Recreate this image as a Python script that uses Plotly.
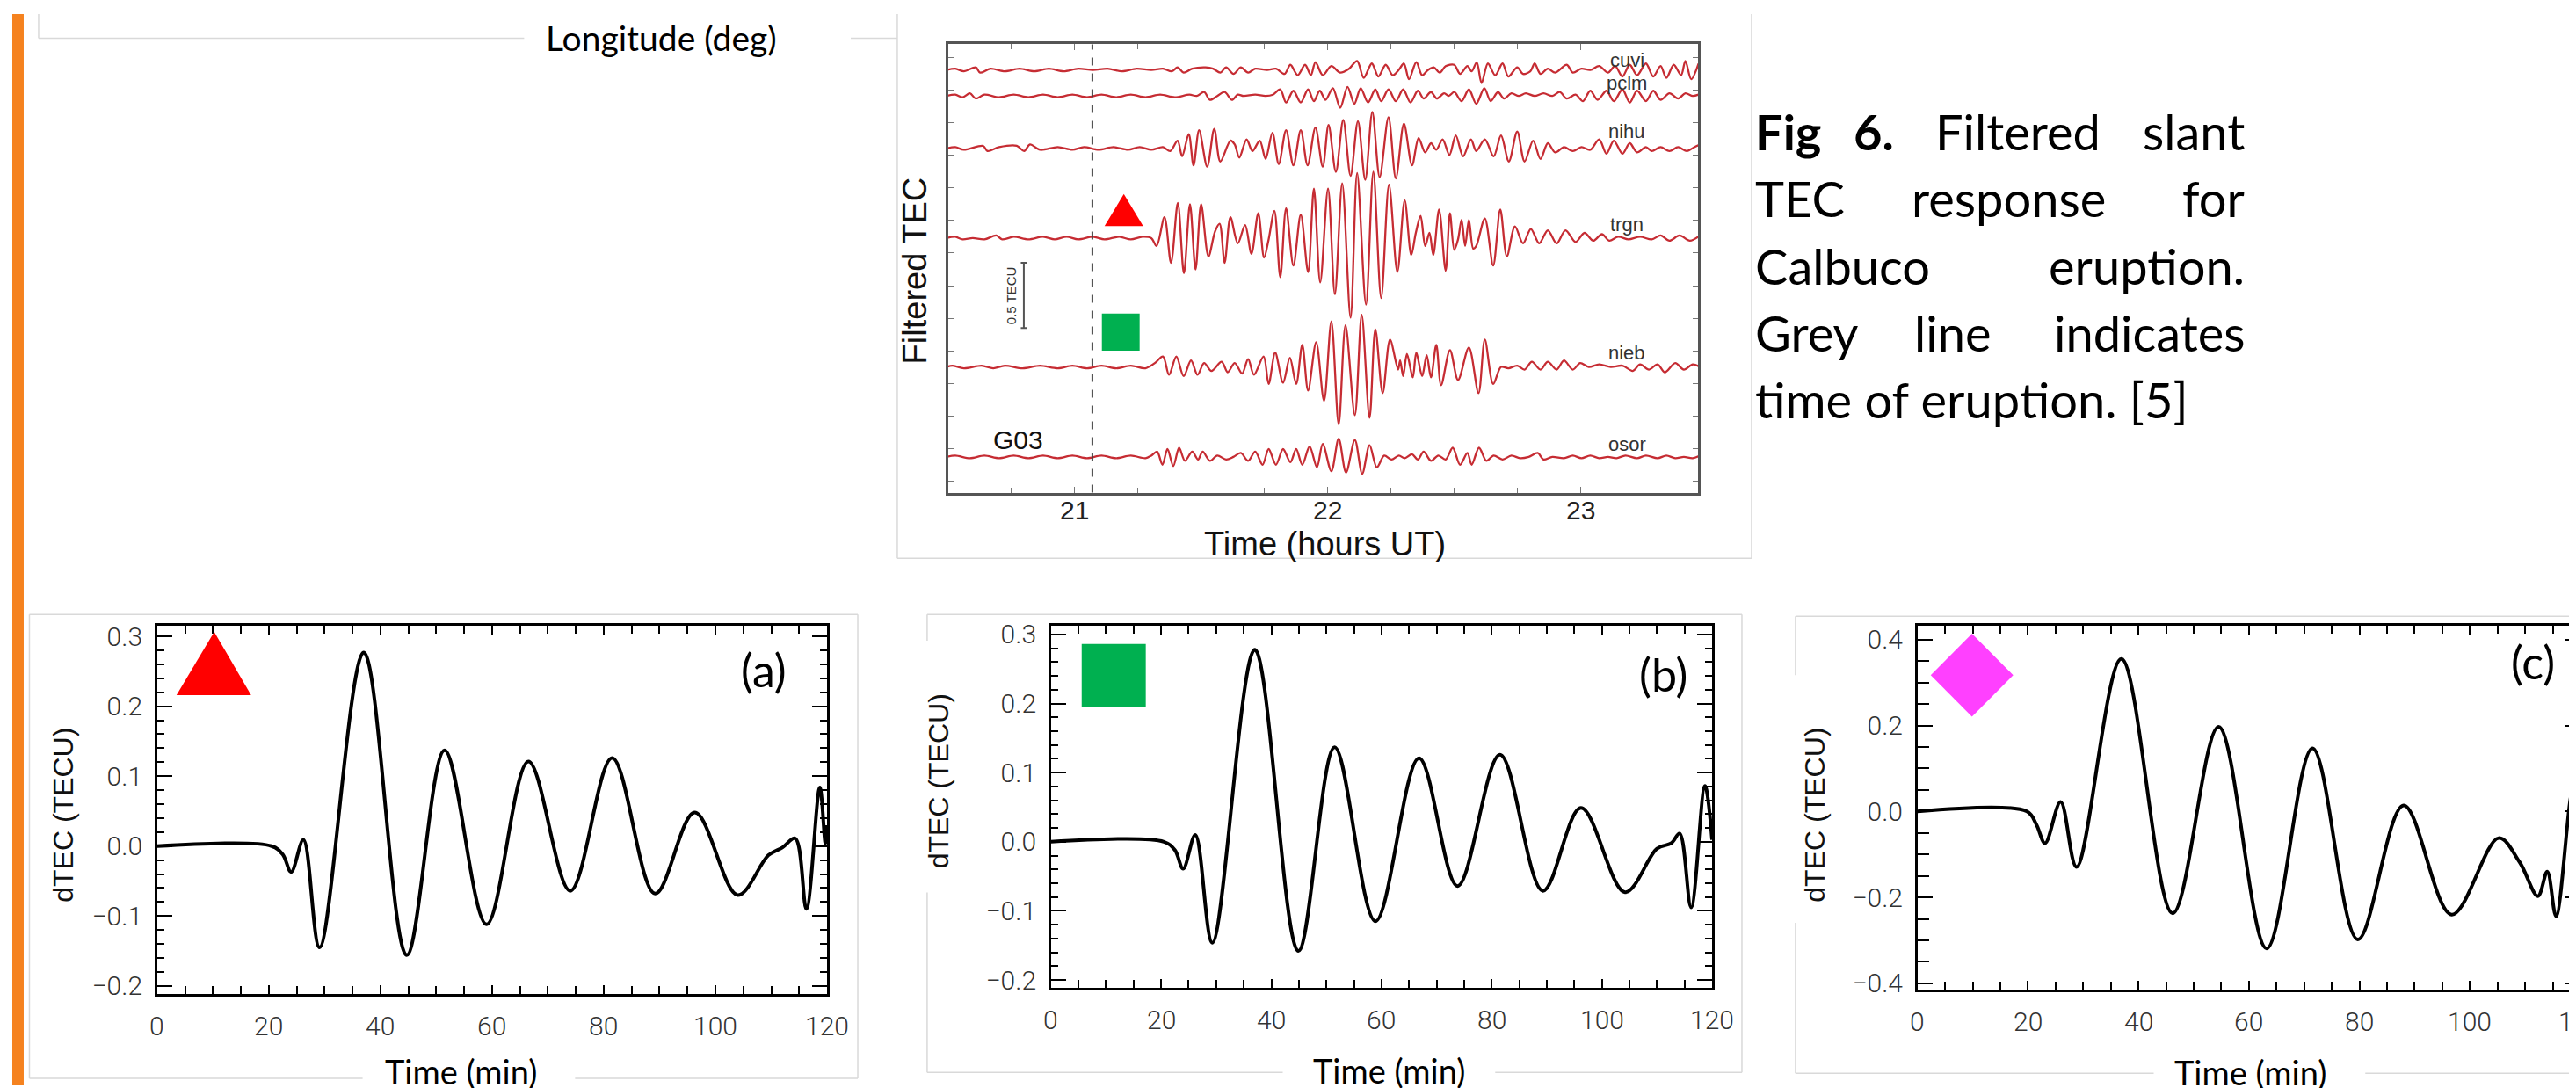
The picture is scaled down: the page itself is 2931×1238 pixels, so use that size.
import plotly.graph_objects as go

W, H = 2931, 1238

# ---------------------------------------------------------------- data
# Fig 6: filtered slant TEC per station, (time in hours UT, offset in TECU)
tec_stations = ["cuvi", "pclm", "nihu", "trgn", "nieb", "osor"]
tec_baselines = [3.243, 3.044, 2.641, 1.953, 0.964, 0.274]
tec_label_y = [3.32, 3.145, 2.77, 2.06, 1.07, 0.37]
tec_label_x = 23.184
tec_ticks = [21, 22, 23]
eruption_hour = 21.07
scale_bar = [1.263, 1.763]  # 0.5 TECU

cuvi = [(20.493,0.00),(20.528,0.01),(20.562,-0.01),(20.609,0.02),(20.626,-0.02),(20.667,0.01),(20.724,-0.01),(20.782,0.01),(20.840,-0.01),(20.898,0.01),(20.956,-0.01),(21.014,0.01),(21.072,0.00),(21.130,0.01),(21.187,-0.01),(21.245,0.01),(21.303,0.00),(21.349,0.01),(21.384,-0.01),(21.407,0.02),(21.431,-0.02),(21.465,0.01),(21.518,0.02),(21.547,0.01),(21.576,-0.02),(21.599,0.02),(21.628,-0.03),(21.657,0.02),(21.686,-0.02),(21.714,0.01),(21.761,0.00),(21.796,0.01),(21.830,-0.03),(21.853,0.04),(21.882,-0.04),(21.911,0.04),(21.934,-0.04),(21.952,0.06),(21.981,-0.04),(22.015,0.03),(22.050,-0.02),(22.085,0.01),(22.117,0.07),(22.143,-0.06),(22.175,0.05),(22.201,-0.05),(22.230,0.04),(22.258,-0.04),(22.281,0.00),(22.302,0.05),(22.322,-0.07),(22.351,0.06),(22.374,-0.04),(22.397,0.00),(22.420,0.02),(22.444,-0.02),(22.467,0.03),(22.501,0.04),(22.524,-0.03),(22.553,0.03),(22.570,-0.01),(22.590,0.06),(22.609,-0.10),(22.634,0.05),(22.663,-0.04),(22.692,0.05),(22.715,-0.05),(22.750,0.02),(22.773,-0.03),(22.802,-0.01),(22.819,0.05),(22.842,-0.03),(22.871,0.01),(22.900,-0.02),(22.946,0.04),(22.970,-0.02),(23.004,0.01),(23.039,0.00),(23.074,0.03),(23.109,-0.02),(23.137,0.03),(23.166,-0.05),(23.195,0.04),(23.224,-0.04),(23.259,0.05),(23.288,-0.05),(23.317,0.03),(23.340,-0.06),(23.369,0.04),(23.398,-0.04),(23.415,0.07),(23.438,-0.07),(23.467,0.05)]

pclm = [(20.493,0.00),(20.528,0.01),(20.557,-0.01),(20.586,0.02),(20.609,-0.02),(20.643,0.01),(20.701,-0.01),(20.759,0.01),(20.817,-0.01),(20.875,0.01),(20.933,-0.01),(20.991,0.01),(21.049,-0.01),(21.106,0.01),(21.164,-0.01),(21.222,0.01),(21.280,-0.01),(21.338,0.01),(21.396,-0.01),(21.454,0.01),(21.483,0.00),(21.512,0.03),(21.535,-0.03),(21.564,0.00),(21.593,0.03),(21.622,-0.03),(21.645,0.01),(21.668,0.00),(21.714,0.01),(21.755,0.00),(21.784,0.01),(21.813,0.05),(21.836,-0.05),(21.865,0.04),(21.894,-0.05),(21.923,0.05),(21.946,-0.04),(21.969,0.04),(21.992,-0.03),(22.021,0.06),(22.050,-0.09),(22.079,0.07),(22.106,-0.06),(22.131,0.06),(22.160,-0.05),(22.189,0.05),(22.212,-0.04),(22.241,0.05),(22.270,-0.04),(22.299,0.05),(22.328,-0.05),(22.357,0.04),(22.380,-0.02),(22.409,0.03),(22.432,-0.02),(22.461,0.02),(22.479,0.00),(22.501,0.03),(22.530,-0.04),(22.559,0.05),(22.588,-0.06),(22.620,0.06),(22.645,-0.04),(22.674,0.03),(22.698,-0.02),(22.727,0.02),(22.756,0.00),(22.784,0.02),(22.819,0.00),(22.854,0.02),(22.889,0.00),(22.918,0.03),(22.946,-0.02),(22.981,0.01),(23.010,-0.04),(23.039,0.04),(23.068,-0.03),(23.103,0.04),(23.132,-0.04),(23.166,0.05),(23.195,-0.05),(23.224,0.04),(23.259,-0.04),(23.288,0.04),(23.317,-0.03),(23.352,0.02),(23.386,-0.02),(23.415,0.02),(23.444,0.00),(23.467,0.01)]

nihu = [(20.493,0.00),(20.528,0.01),(20.562,-0.01),(20.638,0.02),(20.655,-0.02),(20.701,0.01),(20.771,0.02),(20.800,-0.02),(20.823,0.03),(20.863,-0.01),(20.933,0.01),(20.991,-0.01),(21.037,0.01),(21.095,-0.01),(21.153,0.01),(21.211,-0.01),(21.257,0.01),(21.303,-0.01),(21.349,0.01),(21.378,-0.02),(21.407,0.06),(21.425,-0.06),(21.451,0.11),(21.470,-0.13),(21.492,0.14),(21.524,-0.14),(21.552,0.15),(21.576,-0.10),(21.616,0.06),(21.633,0.03),(21.651,-0.07),(21.680,0.07),(21.703,-0.02),(21.732,0.06),(21.755,-0.08),(21.782,0.12),(21.807,-0.12),(21.836,0.14),(21.865,-0.13),(21.894,0.14),(21.921,-0.13),(21.952,0.16),(21.981,-0.14),(22.004,0.18),(22.033,-0.18),(22.062,0.22),(22.091,-0.21),(22.120,0.21),(22.149,-0.24),(22.177,0.28),(22.206,-0.22),(22.241,0.24),(22.270,-0.23),(22.302,0.19),(22.334,-0.13),(22.360,0.08),(22.386,-0.03),(22.409,0.04),(22.430,-0.01),(22.455,0.07),(22.482,-0.05),(22.507,0.10),(22.536,-0.06),(22.567,0.07),(22.588,-0.02),(22.622,0.07),(22.657,-0.06),(22.686,0.10),(22.717,-0.10),(22.750,0.13),(22.779,-0.10),(22.813,0.06),(22.842,-0.08),(22.871,0.04),(22.900,-0.03),(22.935,0.01),(22.970,-0.02),(23.004,0.01),(23.039,-0.01),(23.074,0.07),(23.103,-0.04),(23.132,0.06),(23.166,-0.04),(23.195,0.04),(23.224,-0.03),(23.259,0.01),(23.282,-0.02),(23.317,0.01),(23.352,-0.02),(23.386,0.01),(23.421,-0.02),(23.450,0.01),(23.473,0.03)]

trgn = [(20.493,0.00),(20.528,0.01),(20.557,-0.01),(20.597,0.00),(20.643,-0.01),(20.690,0.02),(20.713,-0.01),(20.759,0.01),(20.817,-0.01),(20.875,0.01),(20.921,-0.01),(20.968,0.01),(21.014,-0.01),(21.072,0.01),(21.118,-0.01),(21.176,0.01),(21.222,-0.01),(21.268,0.01),(21.303,0.00),(21.324,-0.06),(21.355,0.16),(21.381,-0.19),(21.408,0.27),(21.432,-0.27),(21.456,0.26),(21.478,-0.24),(21.500,0.26),(21.529,-0.14),(21.555,0.05),(21.573,0.11),(21.593,-0.19),(21.616,0.16),(21.645,-0.04),(21.674,0.10),(21.699,-0.12),(21.726,0.19),(21.749,-0.15),(21.767,-0.01),(21.790,0.21),(21.813,-0.30),(21.836,0.23),(21.865,-0.21),(21.894,0.18),(21.923,-0.26),(21.946,0.38),(21.971,-0.34),(22.002,0.38),(22.029,-0.43),(22.058,0.42),(22.091,-0.61),(22.117,0.50),(22.152,-0.51),(22.181,0.51),(22.212,-0.46),(22.243,0.41),(22.276,-0.26),(22.305,0.29),(22.331,-0.13),(22.349,0.04),(22.368,0.17),(22.386,-0.06),(22.403,0.04),(22.418,-0.13),(22.441,0.22),(22.467,-0.25),(22.484,0.19),(22.501,-0.09),(22.516,-0.01),(22.530,0.14),(22.544,-0.06),(22.559,0.14),(22.576,-0.08),(22.588,-0.06),(22.622,0.15),(22.655,-0.21),(22.683,0.22),(22.709,-0.14),(22.741,0.09),(22.773,-0.04),(22.804,0.07),(22.837,-0.04),(22.871,0.06),(22.906,-0.04),(22.941,0.06),(22.981,-0.03),(23.016,0.04),(23.051,-0.02),(23.085,0.03),(23.114,-0.02),(23.149,0.01),(23.190,-0.01),(23.236,0.01),(23.282,-0.01),(23.317,0.02),(23.352,-0.02),(23.392,0.02),(23.433,-0.02),(23.473,0.02)]

nieb = [(20.493,0.00),(20.516,0.01),(20.562,-0.01),(20.632,0.01),(20.678,-0.01),(20.724,0.01),(20.794,-0.01),(20.863,0.01),(20.933,-0.01),(20.991,0.01),(21.049,-0.01),(21.106,0.01),(21.164,-0.01),(21.222,0.01),(21.280,-0.01),(21.317,0.03),(21.349,0.08),(21.373,-0.06),(21.402,0.08),(21.431,-0.07),(21.460,0.05),(21.486,-0.06),(21.512,0.03),(21.541,-0.03),(21.581,0.04),(21.605,-0.04),(21.633,0.03),(21.662,-0.05),(21.686,0.06),(21.709,-0.06),(21.747,0.08),(21.767,-0.13),(21.793,0.11),(21.824,-0.12),(21.851,0.07),(21.876,-0.13),(21.900,0.17),(21.923,-0.18),(21.955,0.19),(21.986,-0.26),(22.015,0.35),(22.044,-0.44),(22.071,0.32),(22.108,-0.37),(22.135,0.40),(22.166,-0.39),(22.189,0.29),(22.218,-0.20),(22.247,0.21),(22.279,-0.02),(22.287,0.05),(22.299,-0.07),(22.314,0.10),(22.337,-0.08),(22.351,0.11),(22.374,-0.07),(22.392,0.09),(22.409,-0.08),(22.430,0.17),(22.449,-0.14),(22.484,0.13),(22.516,-0.10),(22.559,0.15),(22.597,-0.20),(22.622,0.21),(22.655,-0.13),(22.686,0.00),(22.715,-0.01),(22.750,0.01),(22.779,-0.02),(22.808,0.04),(22.842,-0.02),(22.871,0.04),(22.906,-0.02),(22.935,0.05),(22.970,-0.02),(22.999,0.03),(23.033,0.00),(23.074,0.02),(23.120,0.00),(23.166,0.01),(23.207,-0.03),(23.236,0.02),(23.271,-0.02),(23.305,0.02),(23.334,-0.04),(23.375,0.03),(23.409,-0.02),(23.444,0.02),(23.473,0.00)]

osor = [(20.493,0.00),(20.528,0.01),(20.586,-0.01),(20.643,0.01),(20.701,-0.01),(20.759,0.01),(20.817,-0.01),(20.875,0.01),(20.933,-0.01),(20.991,0.01),(21.049,-0.01),(21.106,0.01),(21.164,-0.01),(21.222,0.01),(21.280,-0.01),(21.303,0.01),(21.326,0.04),(21.347,-0.06),(21.367,0.06),(21.390,-0.07),(21.413,0.07),(21.436,-0.03),(21.465,0.04),(21.488,-0.02),(21.506,0.04),(21.535,-0.03),(21.564,0.01),(21.599,-0.02),(21.628,0.00),(21.657,0.03),(21.686,-0.03),(21.714,0.04),(21.743,-0.06),(21.767,0.06),(21.796,-0.06),(21.824,0.06),(21.853,-0.04),(21.876,0.06),(21.900,-0.06),(21.929,0.08),(21.958,-0.08),(21.981,0.10),(22.015,-0.11),(22.044,0.14),(22.073,-0.12),(22.108,0.13),(22.137,-0.13),(22.166,0.09),(22.195,-0.08),(22.224,0.01),(22.253,-0.02),(22.282,0.01),(22.305,-0.01),(22.334,0.02),(22.357,-0.02),(22.380,0.04),(22.409,-0.03),(22.438,0.01),(22.467,-0.02),(22.495,0.07),(22.524,-0.06),(22.553,0.03),(22.570,-0.06),(22.599,0.07),(22.628,-0.03),(22.657,0.01),(22.692,-0.02),(22.727,0.01),(22.761,-0.01),(22.796,0.00),(22.831,0.03),(22.854,-0.02),(22.889,0.00),(22.935,-0.01),(22.970,0.01),(23.004,-0.01),(23.039,0.01),(23.074,-0.01),(23.109,0.00),(23.143,-0.01),(23.178,0.01),(23.224,-0.01),(23.259,0.01),(23.305,-0.01),(23.340,0.01),(23.375,-0.01),(23.409,0.00),(23.444,-0.01),(23.473,0.01)]

tec_series = {"cuvi": cuvi, "pclm": pclm, "nihu": nihu, "trgn": trgn, "nieb": nieb, "osor": osor}

# Bottom panels: dTEC (TECU) vs time (min)
a_time = [0, 20.5, 22.5, 24.0, 26.2, 29.1, 37.0, 44.7, 51.5, 59.0, 66.5, 74.0, 81.5, 89.2, 96.3, 104.0, 109.5, 112.0, 114.3, 116.3, 118.7, 119.7, 120.0]
a_dtec = [0.0, 0.0, -0.012, -0.037, 0.009, -0.145, 0.277, -0.156, 0.137, -0.112, 0.121, -0.064, 0.126, -0.068, 0.048, -0.070, -0.013, -0.002, 0.011, -0.090, 0.084, 0.004, 0.030]

b_time = [0, 20.5, 22.5, 24.0, 26.2, 29.3, 37.0, 44.9, 51.5, 58.9, 66.8, 73.8, 81.5, 89.3, 96.2, 104.2, 110.0, 112.6, 114.1, 116.2, 118.7, 120.0]
b_dtec = [0.0, 0.0, -0.012, -0.039, 0.010, -0.146, 0.278, -0.158, 0.137, -0.115, 0.121, -0.064, 0.126, -0.071, 0.049, -0.073, -0.010, -0.002, 0.012, -0.095, 0.081, 0.003]

c_time = [0, 19.8, 21.5, 23.1, 25.9, 28.8, 36.9, 46.2, 54.5, 63.2, 71.5, 79.7, 88.0, 96.7, 105.2, 109.0, 112.3, 114.0, 115.6, 118.6, 120.0]
c_dtec = [0.0, 0.0, -0.03, -0.074, 0.022, -0.129, 0.355, -0.237, 0.197, -0.319, 0.147, -0.298, 0.014, -0.240, -0.062, -0.118, -0.197, -0.140, -0.244, 0.047, -0.080]

time_ticks = [0, 20, 40, 60, 80, 100, 120]
panel_labels = ["(a)", "(b)", "(c)"]

# ---------------------------------------------------------------- helpers
def PX(x):
    return x / W

def PY(y):
    return 1 - y / H

def seg(x0, y0, x1, y1, color="#D9D9D9", width=1.5):
    return dict(type="line", xref="paper", yref="paper", x0=PX(x0), y0=PY(y0),
                x1=PX(x1), y1=PY(y1), line=dict(color=color, width=width), layer="above")

def txt(x, y, s, size, family="Lato", color="#000", angle=0, xanchor="center", bg=None, pad=1):
    d = dict(x=PX(x), y=PY(y), xref="paper", yref="paper", text=s, showarrow=False,
             font=dict(family=family, size=size, color=color), textangle=angle,
             xanchor=xanchor, yanchor="middle", borderpad=pad)
    if bg:
        d["bgcolor"] = bg
    return d

fig = go.Figure()

# TEC traces
for name, base in zip(tec_stations, tec_baselines):
    pts = tec_series[name]
    fig.add_trace(go.Scatter(
        x=[p[0] for p in pts], y=[base + p[1] for p in pts], mode="lines",
        line=dict(color="#C62C33", width=2.3, shape="spline", smoothing=0.9),
        xaxis="x", yaxis="y", showlegend=False, hoverinfo="skip"))

for i, (t, v) in enumerate([(a_time, a_dtec), (b_time, b_dtec), (c_time, c_dtec)]):
    n = str(i + 2)
    fig.add_trace(go.Scatter(
        x=t, y=v, mode="lines",
        line=dict(color="#000", width=4, shape="spline", smoothing=1.0),
        xaxis="x" + n, yaxis="y" + n, showlegend=False, hoverinfo="skip"))

tick_font = dict(family="Roboto", size=30, color="#333", weight=300)

def bottom_x(dom, anchor):
    return dict(domain=dom, anchor=anchor, range=[0, 120], tickvals=time_ticks,
                ticks="inside", ticklen=10, tickwidth=1.5, tickcolor="#000",
                minor=dict(dtick=5, tick0=0, ticks="inside", ticklen=9, tickcolor="#000", tickwidth=1.5),
                showline=True, linecolor="#000", linewidth=2.5, mirror="allticks",
                showgrid=False, zeroline=False, showticklabels=False)

def bottom_y(dom, anchor, rng, dtick, minor_dtick, minor_len):
    return dict(domain=dom, anchor=anchor, range=rng, tick0=0, dtick=dtick,
                ticks="inside", ticklen=17, tickwidth=1.5, tickcolor="#000",
                minor=dict(dtick=minor_dtick, ticks="inside", ticklen=minor_len,
                           tickcolor="#000", tickwidth=1.5),
                showline=True, linecolor="#000", linewidth=2.5, mirror="allticks",
                showgrid=False, zeroline=False, tickformat=".1f",
                tickfont=tick_font, ticklabelstandoff=8)

layout = dict(
    width=W, height=H, autosize=False,
    margin=dict(l=0, r=0, t=0, b=0, pad=0),
    paper_bgcolor="white", plot_bgcolor="white",
    showlegend=False,
    xaxis=dict(domain=[PX(1072), PX(1926)], anchor="y", range=[20.5, 23.465],
               tickvals=tec_ticks, ticks="inside", ticklen=7, tickcolor="#777",
               minor=dict(dtick=0.25, tick0=21, ticks="inside", ticklen=6, tickcolor="#777"),
               showline=True, linecolor="#555", linewidth=2.5, mirror="allticks",
               showgrid=False, zeroline=False, showticklabels=False),
    yaxis=dict(domain=[PY(553), PY(35)], anchor="x", range=[0, 3.44],
               tick0=0.088, dtick=0.25, ticks="inside", ticklen=6, tickcolor="#777",
               showticklabels=False, showline=True, linecolor="#555", linewidth=2.5,
               mirror="allticks", showgrid=False, zeroline=False),
    xaxis2=bottom_x([PX(171), PX(934)], "y2"),
    yaxis2=bottom_y([PY(1132), PY(707)], "x2", [-0.211, 0.315], 0.1, 0.02, 8),
    xaxis3=bottom_x([PX(1189), PX(1942)], "y3"),
    yaxis3=bottom_y([PY(1125), PY(707)], "x3", [-0.211, 0.3125], 0.1, 0.02, 8),
    xaxis4=bottom_x([PX(2176), 1.0], "y4"),
    yaxis4=bottom_y([PY(1127), PY(707)], "x4", [-0.414, 0.432], 0.2, 0.05, 13),
)
fig.update_layout(**layout)

shapes = []
# orange side bar
shapes.append(dict(type="rect", xref="paper", yref="paper", x0=PX(6), x1=PX(19), y0=0, y1=1,
                   fillcolor="#F5821F", line=dict(width=0), layer="below"))
# top-left panel remnants
shapes += [seg(36, 0, 36, 28), seg(36, 28, 589, 28), seg(961, 28, 1014, 28)]
# Fig 6 box
shapes += [seg(1014, 0, 1014, 629), seg(1987, 0, 1987, 629), seg(1014, 629, 1987, 629)]
# panel (a) box
shapes += [seg(25.5, 694, 969, 694), seg(969, 694, 969, 1230), seg(25.5, 694, 25.5, 1230),
           seg(25.5, 1230, 405, 1230), seg(647, 1230, 969, 1230)]
# panel (b) box
shapes += [seg(1048, 694, 1976, 694), seg(1976, 694, 1976, 1223), seg(1048, 694, 1048, 724),
           seg(1048, 1015, 1048, 1223), seg(1048, 1223, 1453, 1223), seg(1695, 1223, 1976, 1223)]
# panel (c) box
shapes += [seg(2037, 696, 2931, 696), seg(2037, 696, 2037, 764), seg(2037, 1050, 2037, 1224),
           seg(2037, 1224, 2445, 1224), seg(2686, 1224, 2931, 1224)]

# eruption time (dashed)
shapes.append(dict(type="line", xref="x", yref="y domain", x0=eruption_hour, x1=eruption_hour,
                   y0=0, y1=1, line=dict(color="#444", width=2, dash="dash")))
# 0.5 TECU scale bar
sb_x = 20.799
shapes.append(dict(type="line", xref="x", yref="y", x0=sb_x, x1=sb_x, y0=scale_bar[0], y1=scale_bar[1],
                   line=dict(color="#555", width=2)))
for yv in scale_bar:
    shapes.append(dict(type="line", xref="x", yref="y", x0=sb_x - 0.012, x1=sb_x + 0.012, y0=yv, y1=yv,
                       line=dict(color="#555", width=2)))

def path(points):
    return "M " + " L ".join(f"{PX(x):.5f},{PY(y):.5f}" for x, y in points) + " Z"

# symbols
shapes.append(dict(type="path", xref="paper", yref="paper", path=path([(1250, 245), (1272, 208), (1294, 245)]),
                   fillcolor="#FF0000", line=dict(width=0)))
shapes.append(dict(type="rect", xref="paper", yref="paper", x0=PX(1247), x1=PX(1290), y0=PY(389), y1=PY(346),
                   fillcolor="#00B050", line=dict(width=0)))
shapes.append(dict(type="path", xref="paper", yref="paper", path=path([(193, 787), (236, 714), (278, 787)]),
                   fillcolor="#FF0000", line=dict(width=0)))
shapes.append(dict(type="rect", xref="paper", yref="paper", x0=PX(1224), x1=PX(1297), y0=PY(801), y1=PY(728),
                   fillcolor="#00B050", line=dict(width=0)))
shapes.append(dict(type="path", xref="paper", yref="paper",
                   path=path([(2238, 716), (2285, 764), (2238, 812), (2191, 764)]),
                   fillcolor="#FF40FF", line=dict(width=0)))

ann = []
ann.append(txt(745, 27, "Longitude (deg)", 39))
# Fig 6 texts
ann.append(txt(1035, 296, "Filtered TEC", 38, family="Liberation Sans", color="#111", angle=-90))
ann.append(txt(1501, 612, "Time (hours UT)", 38, family="Liberation Sans", color="#111"))
for tv in tec_ticks:
    ann.append(dict(x=tv, y=PY(573), xref="x", yref="paper", text=str(tv), showarrow=False,
                    yanchor="middle", font=dict(family="Liberation Sans", size=30, color="#222")))
for name, ly in zip(tec_stations, tec_label_y):
    ann.append(dict(x=tec_label_x, y=ly, xref="x", yref="y", text=name, showarrow=False,
                    font=dict(family="Liberation Sans", size=22, color="#333")))
ann.append(dict(x=20.778, y=0.405, xref="x", yref="y", text="G03", showarrow=False,
                font=dict(family="Liberation Sans", size=30, color="#111")))
ann.append(dict(x=20.747, y=1.513, xref="x", yref="y", text="0.5 TECU", showarrow=False, textangle=-90,
                font=dict(family="Liberation Sans", size=15, color="#333")))

# x tick labels of bottom panels
for axn, ylab in [("x2", 1169), ("x3", 1162), ("x4", 1164)]:
    for tv in time_ticks:
        ann.append(dict(x=tv, y=PY(ylab), xref=axn, yref="paper", text=str(tv), showarrow=False,
                        yanchor="middle", font=tick_font))

# caption (justified look)
cap = 56
ann += [txt(1989, 136, "<b>Fig</b>", cap, xanchor="left"), txt(2126, 136, "<b>6.</b>", cap),
        txt(2290, 136, "Filtered", cap), txt(2551, 136, "slant", cap, xanchor="right"),
        txt(1989, 213, "TEC", cap, xanchor="left"), txt(2280, 213, "response", cap),
        txt(2551, 213, "for", cap, xanchor="right"),
        txt(1989, 291, "Calbuco", cap, xanchor="left"), txt(2551, 291, "eruption.", cap, xanchor="right"),
        txt(1989, 368, "Grey", cap, xanchor="left"), txt(2216, 368, "line", cap),
        txt(2551, 368, "indicates", cap, xanchor="right"),
        txt(1989, 445, "time of eruption. [5]", cap, xanchor="left")]

# bottom panel texts
ylab_font = "Liberation Sans"
ann += [txt(64, 925, "dTEC (TECU)", 32, family=ylab_font, color="#111", angle=-90),
        txt(1061, 886, "dTEC (TECU)", 32, family=ylab_font, color="#111", angle=-90),
        txt(2059, 925, "dTEC (TECU)", 32, family=ylab_font, color="#111", angle=-90)]
ann += [txt(862, 758, panel_labels[0], 52), txt(1886, 763, panel_labels[1], 52), txt(2877, 748, panel_labels[2], 52)]
ann += [txt(517, 1222, "Time (min)", 38), txt(1574, 1221, "Time (min)", 38), txt(2555, 1223, "Time (min)", 38)]

fig.update_layout(shapes=shapes, annotations=ann)
fig.write_html("out.html")
